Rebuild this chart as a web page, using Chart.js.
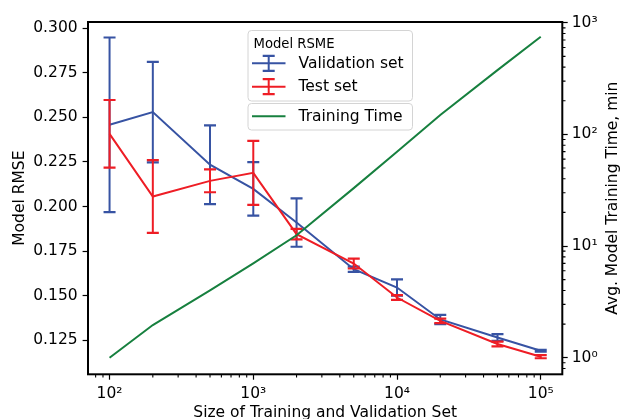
<!DOCTYPE html>
<html>
<head>
<meta charset="utf-8">
<script src="https://cdn.jsdelivr.net/npm/chart.js@4.4.1/dist/chart.umd.min.js"></script>
<style>
html,body{margin:0;padding:0;background:#fff;}
#wrap{width:623px;height:419px;}
</style>
</head>
<body>
<div id="wrap"><canvas id="c" width="623" height="419"></canvas></div>
<script>
// ---- data ----
const sizes = [100, 200, 500, 1000, 2000, 5000, 10000, 20000, 50000, 100000];
const valRmse = [0.2459, 0.2530, 0.2235, 0.2099, 0.1910, 0.1648, 0.1545, 0.1366, 0.1265, 0.1190];
const valErr  = [0.0490, 0.0282, 0.0221, 0.0150, 0.0136, 0.0015, 0.0046, 0.0026, 0.0019, 0.0005];
const testRmse = [0.2408, 0.2056, 0.2144, 0.2189, 0.1845, 0.1680, 0.1489, 0.1358, 0.1228, 0.1157];
const testErr  = [0.0190, 0.0204, 0.0064, 0.0180, 0.0030, 0.0028, 0.0013, 0.0013, 0.0013, 0.0009];
const trainTime = [1.0, 1.96, 4.0, 7.0, 12.5, 33, 70, 149, 376, 748];
const xTicks = [100, 1000, 10000, 100000];
const yTicks = [0.125, 0.150, 0.175, 0.200, 0.225, 0.250, 0.275, 0.300];
const y2Ticks = [1, 10, 100, 1000];
const labels = {
  x: 'Size of Training and Validation Set',
  y: 'Model RMSE',
  y2: 'Avg. Model Training Time, min',
  legendTitle: 'Model RSME',
  val: 'Validation set',
  test: 'Test set',
  time: 'Training Time'
};

const BLUE = '#3753a3', RED = '#ee1d25', GREEN = '#17803f';
const FONT = 'DejaVu Sans';
const FS = 15.5;
const SUP = {'0':'\u2070','1':'\u00B9','2':'\u00B2','3':'\u00B3','4':'\u2074','5':'\u2075'};
function pow10Label(v){ const e = Math.round(Math.log10(v)); return '10' + String(e).split('').map(c=>SUP[c]||c).join(''); }

Chart.defaults.font.family = FONT;
Chart.defaults.font.size = FS;
Chart.defaults.color = '#000';

const pts = (ys) => sizes.map((x,i)=>({x, y: ys[i]}));

const errPlugin = {
  id: 'errbars',
  afterDatasetDraw(chart, args) {
    const ds = chart.data.datasets[args.index];
    if (!ds.errors) return;
    const ctx = chart.ctx, xs = chart.scales.x, ys = chart.scales[ds.yAxisID];
    ctx.save();
    ctx.strokeStyle = ds.borderColor;
    ds.data.forEach((p, i) => {
      const e = ds.errors[i];
      const px = xs.getPixelForValue(p.x);
      const t = ys.getPixelForValue(p.y + e), b = ys.getPixelForValue(p.y - e);
      ctx.lineWidth = 2;
      ctx.beginPath(); ctx.moveTo(px, t); ctx.lineTo(px, b); ctx.stroke();
      ctx.lineWidth = 2.2;
      ctx.beginPath();
      ctx.moveTo(px - 6, t); ctx.lineTo(px + 6, t);
      ctx.moveTo(px - 6, b); ctx.lineTo(px + 6, b);
      ctx.stroke();
    });
    ctx.restore();
  }
};

function rrect(ctx, x, y, w, h, r) {
  ctx.beginPath();
  ctx.moveTo(x + r, y);
  ctx.lineTo(x + w - r, y); ctx.arcTo(x + w, y, x + w, y + r, r);
  ctx.lineTo(x + w, y + h - r); ctx.arcTo(x + w, y + h, x + w - r, y + h, r);
  ctx.lineTo(x + r, y + h); ctx.arcTo(x, y + h, x, y + h - r, r);
  ctx.lineTo(x, y + r); ctx.arcTo(x, y, x + r, y, r);
  ctx.closePath();
}

const decorPlugin = {
  id: 'decor',
  afterDraw(chart) {
    const ctx = chart.ctx, a = chart.chartArea;
    const xs = chart.scales.x, ys2 = chart.scales.y2;
    ctx.save();
    // minor ticks
    ctx.strokeStyle = '#000'; ctx.lineWidth = 1.1;
    ctx.beginPath();
    for (let d = 10; d <= 1e5; d *= 10) {
      for (let m = 2; m <= 9; m++) {
        const v = d * m;
        if (v > xs.min && v < xs.max) {
          const px = xs.getPixelForValue(v);
          ctx.moveTo(px, a.bottom); ctx.lineTo(px, a.bottom + 3.2);
        }
      }
    }
    for (let d = 0.1; d <= 1000; d *= 10) {
      for (let m = 2; m <= 9; m++) {
        const v = d * m;
        if (v > ys2.min && v < ys2.max) {
          const py = ys2.getPixelForValue(v);
          ctx.moveTo(a.right, py); ctx.lineTo(a.right + 3.2, py);
        }
      }
    }
    ctx.stroke();
    // spines
    ctx.lineWidth = 2; ctx.strokeStyle = '#000';
    ctx.strokeRect(a.left, a.top, a.right - a.left, a.bottom - a.top);
    // right axis title
    ctx.fillStyle = '#000';
    ctx.font = FS + 'px ' + FONT;
    ctx.translate(612.5, (a.top + a.bottom) / 2);
    ctx.rotate(-Math.PI / 2);
    ctx.textAlign = 'center'; ctx.textBaseline = 'middle';
    ctx.fillText(labels.y2, 0, 0);
    ctx.restore();

    // legend
    ctx.save();
    const L = a.left + 159.5, W = 164.5;
    ctx.lineWidth = 1; ctx.strokeStyle = '#d4d4d4'; ctx.fillStyle = 'rgba(255,255,255,0.85)';
    rrect(ctx, L + 0.5, 30.5, W, 70.5, 3.5); ctx.fill(); ctx.stroke();
    rrect(ctx, L + 0.5, 103.5, W, 26.5, 3.5); ctx.fill(); ctx.stroke();
    ctx.fillStyle = '#000';
    ctx.textAlign = 'left'; ctx.textBaseline = 'alphabetic';
    ctx.font = '13.2px ' + FONT;
    ctx.fillText(labels.legendTitle, L + 6, 48);
    ctx.font = FS + 'px ' + FONT;
    const rows = [[BLUE, 63.3, labels.val, true], [RED, 86.7, labels.test, true], [GREEN, 116.2, labels.time, false]];
    rows.forEach(([col, y, txt, eb]) => {
      ctx.strokeStyle = col; ctx.lineWidth = 2;
      ctx.beginPath(); ctx.moveTo(L + 4.5, y); ctx.lineTo(L + 38, y); ctx.stroke();
      if (eb) {
        const cx = L + 21.2;
        ctx.beginPath(); ctx.moveTo(cx, y - 7.5); ctx.lineTo(cx, y + 7.5); ctx.stroke();
        ctx.lineWidth = 2.2;
        ctx.beginPath(); ctx.moveTo(cx - 6, y - 7.5); ctx.lineTo(cx + 6, y - 7.5);
        ctx.moveTo(cx - 6, y + 7.5); ctx.lineTo(cx + 6, y + 7.5); ctx.stroke();
      }
      ctx.fillStyle = '#000';
      ctx.textBaseline = 'middle';
      ctx.fillText(txt, L + 51, y + 0.5);
    });
    ctx.restore();
  }
};

const gridOpts = { display: true, drawOnChartArea: false, drawTicks: true, tickLength: 5.4, tickWidth: 1.2, tickColor: '#000' };

new Chart(document.getElementById('c'), {
  type: 'line',
  data: {
    datasets: [
      { label: labels.time, data: pts(trainTime), yAxisID: 'y2', borderColor: GREEN, borderWidth: 2, pointRadius: 0, tension: 0, order: 0 },
      { label: labels.test, data: pts(testRmse), errors: testErr, yAxisID: 'y', borderColor: RED, borderWidth: 2, pointRadius: 0, tension: 0, order: 1 },
      { label: labels.val, data: pts(valRmse), errors: valErr, yAxisID: 'y', borderColor: BLUE, borderWidth: 2, pointRadius: 0, tension: 0, order: 2 }
    ]
  },
  options: {
    responsive: false,
    animation: false,
    devicePixelRatio: 1,
    layout: { padding: { top: 22, left: 0, right: 0, bottom: 0 } },
    plugins: { legend: { display: false }, tooltip: { enabled: false } },
    scales: {
      x: {
        type: 'logarithmic', position: 'bottom', min: 70.8, max: 141250, bounds: 'data',
        afterBuildTicks: s => { s.ticks = xTicks.map(v => ({ value: v })); },
        afterFit: s => { s.height = 44.7; },
        grid: gridOpts, border: { display: false },
        ticks: { autoSkip: false, maxRotation: 0, padding: 5, callback: v => pow10Label(v) },
        title: { display: true, text: labels.x, padding: { top: 0, bottom: -3 } }
      },
      y: {
        type: 'linear', position: 'left', min: 0.1058, max: 0.3036, bounds: 'data',
        afterBuildTicks: s => { s.ticks = yTicks.map(v => ({ value: v })); },
        afterFit: s => { s.width = 88; },
        grid: gridOpts, border: { display: false },
        ticks: { autoSkip: false, padding: 5, callback: v => Number(v).toFixed(3) },
        title: { display: true, text: labels.y, padding: { top: 11, bottom: 0 } }
      },
      y2: {
        type: 'logarithmic', position: 'right', min: 0.71, max: 1015, bounds: 'data',
        afterBuildTicks: s => { s.ticks = y2Ticks.map(v => ({ value: v })); },
        afterFit: s => { s.width = 60.7; },
        grid: gridOpts, border: { display: false },
        ticks: { autoSkip: false, padding: 4, callback: v => pow10Label(v) }
      }
    }
  },
  plugins: [errPlugin, decorPlugin]
});
</script>
</body>
</html>
